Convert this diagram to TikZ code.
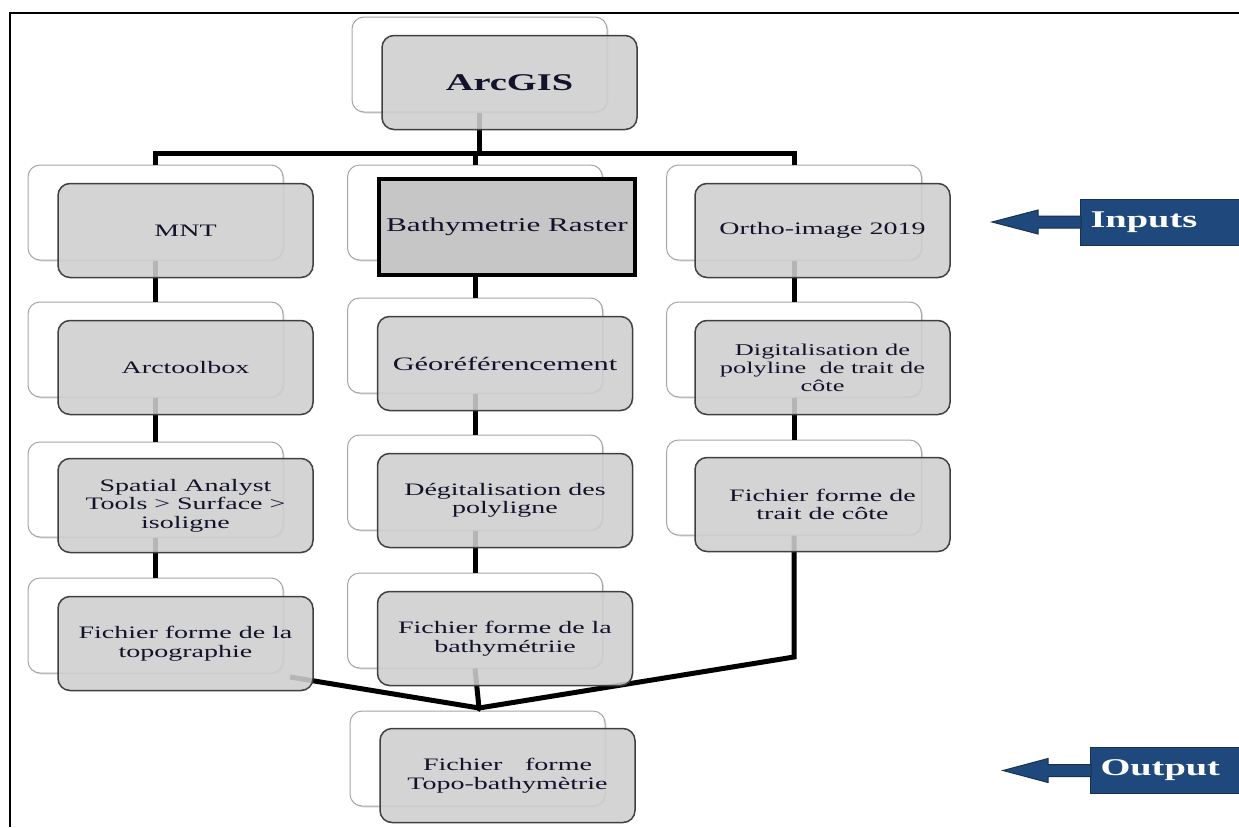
\documentclass[tikz,border=0pt]{standalone}
\usepackage{fontspec}
\setmainfont{Liberation Serif}[FakeStretch=1.6]
\usetikzlibrary{shadows,calc}
\definecolor{txt}{HTML}{12122A}
\definecolor{frontfill}{HTML}{CFCFCF}
\definecolor{rasfill}{HTML}{C6C6C6}
\definecolor{navy}{HTML}{1F497D}
\definecolor{navyline}{HTML}{17324F}
\begin{document}
\begin{tikzpicture}[x=1pt,y=-1pt,
  backbox/.style={draw=black!35, line width=1pt, fill=white, rounded corners=12pt,
    minimum width=255pt, minimum height=95pt, inner sep=0pt,
    drop shadow={shadow xshift=1.5pt, shadow yshift=-1.5pt, opacity=0.25}},
  frontbox/.style={draw=black!75, line width=1.5pt, fill=frontfill, fill opacity=0.88,
    text opacity=1, rounded corners=12pt, minimum width=255pt, minimum height=94pt,
    inner sep=2pt, align=center, text=txt, font=\fontsize{17.5}{18.5}\selectfont},
  rasterbox/.style={draw=black, line width=4pt, fill=rasfill, minimum width=256pt,
    minimum height=96pt, inner sep=0pt, align=center, text=txt,
    font=\fontsize{19.5}{21}\selectfont},
  conn/.style={draw=black, line width=5pt},
  bluebox/.style={fill=navy, draw=navyline, line width=1pt, anchor=west,
    minimum height=46pt, inner xsep=10pt, text=white,
    font=\bfseries\fontsize{24}{26}\selectfont},
  bluearrow/.style={fill=navy, draw=navyline, line width=1pt, line join=miter}
]
\useasboundingbox (0,0) rectangle (1239,827);
\fill[white] (0,0) rectangle (1239,827);
% frame
\draw[line width=2pt] (10,827) -- (10,13) -- (1239,13);

% back boxes
\node[backbox] (arcB) at (479.5,64.5) {};
\node[backbox] (mntB) at (155.5,212.5) {};
\node[backbox] (toolB) at (155.5,349.5) {};
\node[backbox] (spaB) at (155.5,489.5) {};
\node[backbox] (topoB) at (155.5,625.5) {};
\node[backbox] (rasB) at (475,212.5) {};
\node[backbox] (geoB) at (475,345.5) {};
\node[backbox] (digB) at (475,482.5) {};
\node[backbox] (bathB) at (475,620.5) {};
\node[backbox] (orthoB) at (794,212.5) {};
\node[backbox] (polyB) at (794,349.5) {};
\node[backbox] (traitB) at (794,487.5) {};
\node[backbox] (outB) at (477.5,758.5) {};

% connectors
\coordinate (hub) at (479.5,153);
\draw[conn] (arcB.south) -- (hub);
\draw[conn] (mntB.north) |- (hub) -| (orthoB.north);
\draw[conn] (rasB.north) |- (hub);
\draw[conn] (mntB.south) -- (toolB.north);
\draw[conn] (toolB.south) -- (spaB.north);
\draw[conn] (spaB.south) -- (topoB.north);
\draw[conn] (rasB.south) -- (geoB.north);
\draw[conn] (geoB.south) -- (digB.north);
\draw[conn] (digB.south) -- (bathB.north);
\draw[conn] (orthoB.south) -- (polyB.north);
\draw[conn] (polyB.south) -- (traitB.north);
\coordinate (junc) at (479,708);
\coordinate (rbend) at (794,657);
\coordinate (lstart) at (290,677);
\draw[conn] (traitB.south) -- (rbend) -- (junc);
\draw[conn] (lstart) -- (junc);
\draw[conn] (bathB.south) -- (junc) -- (outB.north);

% front boxes
\node[frontbox, font=\bfseries\fontsize{24}{26}\selectfont] (arc) at (509.5,82.5) {ArcGIS};
\node[frontbox] (mnt) at (185.5,230.5) {MNT};
\node[frontbox] (tool) at (185.5,367.5) {Arctoolbox};
\node[frontbox] (spa) at (185.5,505.5) {Spatial Analyst\\Tools > Surface >\\isoligne};
\node[frontbox] (topo) at (185.5,643.5) {Fichier forme de la\\topographie};
\node[rasterbox] (ras) at (507,227) {Bathymetrie Raster};
\node[frontbox, font=\fontsize{19}{20}\selectfont] (geo) at (505,363.5) {Géoréférencement};
\node[frontbox] (dig) at (505,500.5) {Dégitalisation des\\polyligne};
\node[frontbox] (bath) at (505,638.5) {Fichier forme de la\\bathymétriie};
\node[frontbox] (ortho) at (822.5,230.5) {Ortho-image 2019};
\node[frontbox, font=\fontsize{16.5}{18}\selectfont] (poly) at (822.5,367.5) {Digitalisation de\\polyline\ \ de trait de\\côte};
\node[frontbox] (trait) at (822.5,504.5) {Fichier forme de\\trait de côte};
\node[frontbox] (out) at (507.5,775.5) {Fichier\hspace{1.3em}forme\\Topo-bathymètrie};

% side labels
\node[bluebox, text width=150pt] (inp) at (1080,222) {Inputs};
\filldraw[bluearrow] ($(inp.west)+(1,-6)$) -- ++(-43,0) -- ++(0,-6) -- ++(-46,12)
  -- ++(46,12) -- ++(0,-6) -- ++(43,0) -- cycle;
\node[bluebox, text width=140pt] (outp) at (1090,770.5) {Output};
\filldraw[bluearrow] ($(outp.west)+(1,-6)$) -- ++(-43,0) -- ++(0,-6) -- ++(-45,12)
  -- ++(45,12) -- ++(0,-6) -- ++(43,0) -- cycle;
\end{tikzpicture}
\end{document}
